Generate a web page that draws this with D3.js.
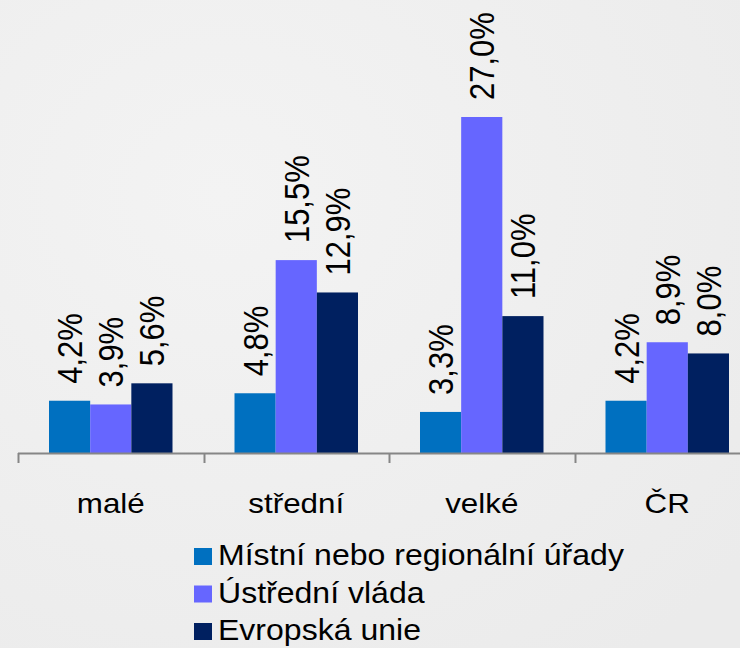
<!DOCTYPE html>
<html><head><meta charset="utf-8">
<script src="https://cdn.jsdelivr.net/npm/d3@7"></script>
<style>html,body{margin:0;padding:0;background:#efefef;}svg{display:block;font-family:"Liberation Sans",Arial,sans-serif;}</style>
</head><body>
<script>
const categories = ["malé", "střední", "velké", "ČR"];
const seriesNames = ["Místní nebo regionální úřady", "Ústřední vláda", "Evropská unie"];
const seriesColors = ["#0070C0", "#6666FF", "#002060"];
const local = [4.2, 4.8, 3.3, 4.2];
const central = [3.9, 15.5, 27.0, 8.9];
const eu = [5.6, 12.9, 11.0, 8.0];
const seriesValues = [local, central, eu];

const W = 740, H = 648;
const svg = d3.select("body").append("svg").attr("width", W).attr("height", H);
const defs = svg.append("defs");
const g0 = defs.append("radialGradient").attr("id","bg").attr("cx","30%").attr("cy","30%").attr("r","90%");
g0.append("stop").attr("offset","0%").attr("stop-color","#f3f3f3");
g0.append("stop").attr("offset","100%").attr("stop-color","#ebebeb");
svg.append("rect").attr("width",W).attr("height",H).attr("fill","url(#bg)");

const baseY = 453;
const x = d3.scaleBand().domain(categories).range([18, 760]).padding(0);
const xs = d3.scaleBand().domain(d3.range(3)).range([31, x.bandwidth() - 31]).padding(0);
const y = d3.scaleLinear().domain([0, 27]).range([baseY, 117]);
const SX = 1.12;

const groups = svg.selectAll("g.cat").data(categories).join("g")
  .attr("transform", d => `translate(${x(d)},0)`);

groups.each(function(c, ci) {
  const g = d3.select(this);
  seriesValues.forEach((vals, si) => {
    const v = vals[ci];
    g.append("rect")
      .attr("x", xs(si)).attr("width", xs.bandwidth())
      .attr("y", y(v)).attr("height", baseY - y(v))
      .attr("fill", seriesColors[si]);
    const cx = xs(si) + xs.bandwidth() / 2;
    const ty = y(v) - 17;
    g.append("text")
      .attr("transform", `translate(${cx},${ty}) scale(${SX},1) rotate(-90)`)
      .attr("dy", "0.36em")
      .attr("text-anchor", "start")
      .attr("font-size", 31)
      .attr("fill", "#000")
      .text(v.toFixed(1).replace(".", ",") + "%");
  });
});

// axis
const axis = svg.append("g");
axis.append("line").attr("x1", 18).attr("x2", W).attr("y1", baseY + 0.5).attr("y2", baseY + 0.5)
  .attr("stroke", "#868686").attr("stroke-width", 2);
categories.forEach(c => {
  const tx = Math.round(x(c)) + 0.5;
  axis.append("line").attr("x1", tx).attr("x2", tx).attr("y1", baseY).attr("y2", baseY + 10)
    .attr("stroke", "#868686").attr("stroke-width", 2);
});
svg.selectAll("text.cat").data(categories).join("text")
  .attr("class","cat")
  .attr("transform", d => `translate(${x(d) + x.bandwidth()/2},513) scale(${SX},1)`)
  .attr("text-anchor", "middle").attr("font-size", 28).attr("fill", "#000")
  .text(d => d);

// legend
const leg = svg.append("g");
seriesNames.forEach((n, i) => {
  const by = 565 + i * 37.5;
  leg.append("rect").attr("x", 194).attr("y", by - 17).attr("width", 18).attr("height", 17)
    .attr("fill", seriesColors[i]);
  leg.append("text").attr("transform", `translate(218,${by}) scale(${SX},1)`)
    .attr("font-size", 28.6).attr("fill", "#000").text(n);
});
</script>
</body></html>
